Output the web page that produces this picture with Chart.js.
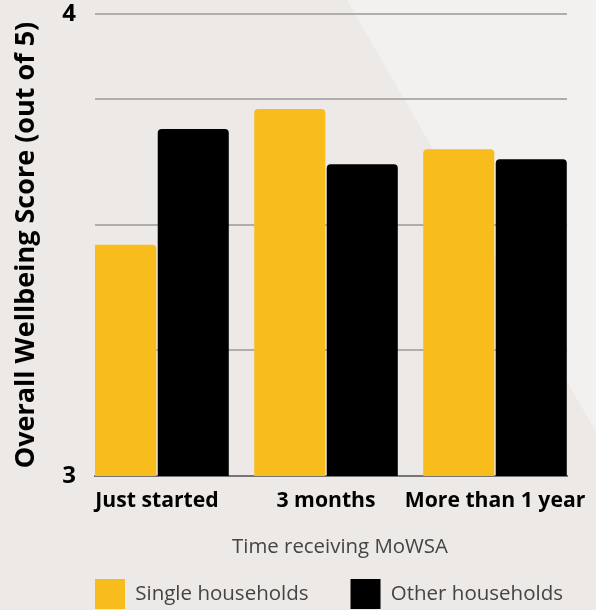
<!DOCTYPE html>
<html>
<head>
<meta charset="utf-8">
<script src="https://cdn.jsdelivr.net/npm/chart.js@4.4.1/dist/chart.umd.min.js"></script>
<style>
  html, body { margin: 0; padding: 0; background: #ECE9E6; }
  #wrap { width: 596px; height: 610px; }
</style>
</head>
<body>
<div id="wrap"><canvas id="chart" width="596" height="610"></canvas></div>
<script>
// Wellbeing score by time receiving MoWSA
const categories = ['Just started', '3 months', 'More than 1 year'];
const singleHouseholds = [3.46, 3.73, 3.65];
const otherHouseholds = [3.69, 3.62, 3.63];
const seriesNames = ['Single households', 'Other households'];
const yTickLabels = { min: '3', max: '4' };

const Y_MIN = 3;
const Y_MAX = 3.919;
const FONT = "'Open Sans', 'DejaVu Sans', sans-serif";

// Two-tone page backdrop with a diagonal lighter band
const backdrop = {
  id: 'backdrop',
  beforeDraw(chart) {
    const { ctx, width, height } = chart;
    ctx.save();
    ctx.fillStyle = '#ECE9E6';
    ctx.fillRect(0, 0, width, height);
    ctx.fillStyle = '#F2F1EF';
    ctx.beginPath();
    ctx.moveTo(347, 0);
    ctx.lineTo(width, 0);
    ctx.lineTo(width, 432);
    ctx.closePath();
    ctx.fill();
    ctx.restore();
  }
};

// Place the legend row under the axis title, starting at the plot's left edge
const legendPlacement = {
  id: 'legendPlacement',
  afterLayout(chart) {
    const lg = chart.legend;
    if (!lg) return;
    const pad = lg.options.labels.padding;
    const dx = chart.chartArea.left - pad - lg.left;
    lg.left += dx;
    lg.right += dx;
    lg.top = 579 - pad;
    lg.height = 100;
    lg.bottom = lg.top + lg.height;
  }
};

// The x-axis title sits a little right of the plot centre
function nudgeTitle(scale, dx) {
  if (scale.$nudged) return;
  const draw = scale.drawTitle;
  scale.drawTitle = function () {
    this.ctx.save();
    this.ctx.translate(dx, 0);
    draw.call(this);
    this.ctx.restore();
  };
  scale.$nudged = true;
}

const toPoints = vals => vals.map((v, i) => ({ x: i, y: v }));

new Chart(document.getElementById('chart'), {
  type: 'bar',
  data: {
    datasets: [
      {
        label: seriesNames[0],
        data: toPoints(singleHouseholds),
        backgroundColor: '#F9BC1D',
        borderRadius: 4,
        borderSkipped: 'start'
      },
      {
        label: seriesNames[1],
        data: toPoints(otherHouseholds),
        backgroundColor: '#000000',
        borderRadius: 4,
        borderSkipped: 'start'
      }
    ]
  },
  options: {
    responsive: false,
    animation: false,
    devicePixelRatio: 1,
    categoryPercentage: 0.858,
    barPercentage: 0.98,
    layout: { padding: { top: 14, right: 29, left: 0, bottom: 0 } },
    plugins: {
      tooltip: { enabled: false },
      legend: {
        position: 'bottom',
        align: 'start',
        maxHeight: 51,
        labels: {
          boxWidth: 30,
          boxHeight: 30,
          padding: 42,
          color: '#444444',
          font: { family: FONT, size: 20.5, weight: 'normal' }
        }
      }
    },
    scales: {
      x: {
        type: 'linear',
        offset: false,
        min: -0.367,
        max: 2.426,
        afterBuildTicks(scale) {
          scale.ticks = categories.map((_, i) => ({ value: i }));
        },
        afterFit(scale) {
          scale.height = 83;
          scale.paddingLeft = 0;
          scale.paddingRight = 0;
          nudgeTitle(scale, 9);
        },
        grid: { display: false, drawTicks: false },
        border: { display: true, color: '#757575', width: 2 },
        ticks: {
          padding: 12,
          color: '#000000',
          font: { family: FONT, size: 21.2, weight: 'bold' },
          maxRotation: 0,
          autoSkip: false,
          callback: v => categories[v] ?? ''
        },
        title: {
          display: true,
          text: 'Time receiving MoWSA',
          color: '#444444',
          font: { family: FONT, size: 20.4, weight: 'normal' },
          padding: { top: 0, bottom: 0 }
        }
      },
      y: {
        min: Y_MIN,
        max: Y_MAX,
        afterFit(scale) {
          scale.width = 95;
          scale.paddingTop = 0;
          scale.paddingBottom = 0;
        },
        grid: { color: '#B0AEAB', lineWidth: 2, drawTicks: false },
        border: { display: false },
        ticks: {
          stepSize: 0.25,
          padding: 19,
          color: '#000000',
          font: { family: FONT, size: 24, weight: 'bold' },
          callback: v => (v === Y_MIN ? yTickLabels.min : (v === Y_MAX ? yTickLabels.max : ''))
        },
        title: {
          display: true,
          text: 'Overall Wellbeing Score (out of 5)',
          color: '#000000',
          font: { family: FONT, size: 27, weight: 'bold' },
          padding: { top: 10, bottom: 0 }
        }
      }
    }
  },
  plugins: [backdrop, legendPlacement]
});
</script>
</body>
</html>
